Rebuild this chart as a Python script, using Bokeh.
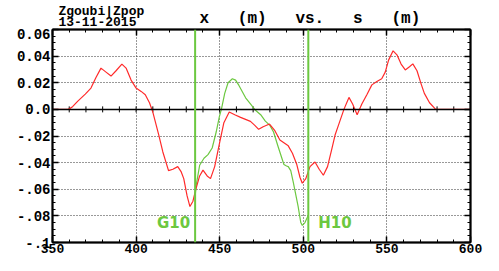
import numpy as np
from bokeh.plotting import figure
from bokeh.layouts import column
from bokeh.models import (Range1d, FixedTicker, LinearAxis, Span, Label)
from bokeh.embed import file_html
from bokeh.resources import INLINE

# ---------------- data ----------------
red_s = [350, 359.5, 362, 365, 369.6, 373, 376, 379, 382, 385, 388, 391.5, 394, 397,
         400, 403, 405.5, 408, 410, 413.5, 416, 419.4, 422, 424.9, 427, 428.5, 430.5,
         432.2, 434, 435.5, 438, 440, 442.5, 444.5, 447, 449.8, 452.5, 455.7, 459,
         462.5, 468.4, 471, 473.3, 476, 479.8, 483, 486, 491, 493.5, 496, 498, 499.4,
         501.5, 504, 507, 509.5, 512, 514.5, 517, 519, 521, 524.3, 527.3, 529.5, 532.2,
         535, 538, 541, 544, 546.9, 549, 551, 553.7, 556, 558.5, 561, 563.5, 565.5,
         568, 570.5, 572.4, 575.5, 579.2, 600]
red_x = [0.0, 0.0, 0.002, 0.006, 0.0115, 0.016, 0.024, 0.031, 0.028, 0.025, 0.029, 0.034,
         0.031, 0.022, 0.016, 0.0135, 0.011, 0.005, -0.002, -0.019, -0.032, -0.046,
         -0.045, -0.043, -0.047, -0.052, -0.065, -0.073, -0.069, -0.061, -0.050,
         -0.0456, -0.050, -0.052, -0.043, -0.026, -0.010, -0.002, -0.004, -0.006,
         -0.009, -0.012, -0.015, -0.013, -0.011, -0.016, -0.023, -0.0274, -0.033,
         -0.041, -0.051, -0.0555, -0.052, -0.043, -0.0395, -0.045, -0.0495, -0.043,
         -0.030, -0.0193, -0.012, 0.0, 0.009, 0.004, -0.004, 0.004, 0.011, 0.0184,
         0.021, 0.023, 0.028, 0.037, 0.044, 0.041, 0.034, 0.0296, 0.032, 0.0342,
         0.029, 0.019, 0.012, 0.005, 0.0, 0.0]

green_s = [435.3, 436, 438, 440.6, 443, 445.5, 447.9, 449.8, 451, 453, 455, 457.6,
           459.5, 461.5, 465.5, 468.5, 471.4, 474.5, 477.3, 480, 482.2, 485.1, 488.4,
           490, 491, 492.5, 493.9, 496.9, 498.5, 499.4, 501, 502.8]
green_x = [-0.065, -0.0565, -0.042, -0.0367, -0.034, -0.029, -0.017, -0.0055, 0.0,
           0.012, 0.020, 0.023, 0.022, 0.018, 0.0087, 0.004, -0.0007, -0.004, -0.0088,
           -0.012, -0.017, -0.0286, -0.0414, -0.0425, -0.043, -0.046, -0.054, -0.0728,
           -0.085, -0.0872, -0.085, -0.080]

element_s = [435.3, 503.0]
element_names = ["G10", "H10"]

x_ticks = [350, 400, 450, 500, 550, 600]
y_ticks = [-0.1, -0.08, -0.06, -0.04, -0.02, 0.0, 0.02, 0.04, 0.06]
y_tick_labels = ["-.1", "-.08", "-.06", "-.04", "-.02", "0.0", "0.02", "0.04", "0.06"]
x_minor = list(range(350, 601, 10))
y_minor = [round(v, 3) for v in np.arange(-0.1, 0.0601, 0.005)]

NB = "\u00a0"
title_text = f"x{NB*3}(m){NB*3}vs.{NB*3}s{NB*3}(m)"
stamp1 = "Zgoubi|Zpop"
stamp2 = "13-11-2015"

RED = "#ff2a2a"
GREEN = "#6cc840"
MONO = "Liberation Mono"

W = 483
HEAD_H = 28
MAIN_H = 255 - HEAD_H
LEFT = 52
RIGHT = 13
PAD = 6

# ---------------- header strip (texts above the frame) ----------------
head = figure(width=W, height=HEAD_H, x_range=Range1d(-PAD, W - LEFT - RIGHT),
              y_range=Range1d(0, HEAD_H), output_backend="svg", toolbar_location=None,
              x_axis_type=None, y_axis_type=None,
              min_border_left=LEFT - PAD, min_border_right=RIGHT, min_border_top=0,
              min_border_bottom=0, background_fill_color="white",
              border_fill_color="white")
head.outline_line_color = None
head.grid.visible = False
head.add_layout(Label(x=0, y=9.5, text=stamp1, text_baseline="bottom",
                      text_font=MONO, text_font_style="bold", text_font_size="13px",
                      text_color="black"))
head.add_layout(Label(x=0, y=2.5, text=stamp2, text_baseline="bottom",
                      text_font=MONO, text_font_style="bold", text_font_size="13px",
                      text_color="black"))
head.add_layout(Label(x=143, y=1, text=title_text, text_baseline="bottom",
                      text_font=MONO, text_font_style="bold", text_font_size="16px",
                      text_color="black"))

# ---------------- main figure ----------------
p = figure(width=W, height=MAIN_H, x_range=Range1d(350, 600), y_range=Range1d(-0.1, 0.06),
           output_backend="svg", toolbar_location=None,
           min_border_left=LEFT, min_border_right=RIGHT, min_border_top=1,
           min_border_bottom=0, background_fill_color="white", border_fill_color="white")
p.outline_line_color = "black"
p.outline_line_width = 1.5

xt = FixedTicker(ticks=x_ticks, minor_ticks=x_minor)
yt = FixedTicker(ticks=y_ticks, minor_ticks=y_minor)


def style_axis(ax, labels=True):
    ax.axis_line_color = "black"
    ax.axis_line_width = 2
    ax.major_tick_in = 6
    ax.major_tick_out = 0
    ax.minor_tick_in = 3
    ax.minor_tick_out = 0
    ax.major_tick_line_color = "black"
    ax.minor_tick_line_color = "black"
    ax.major_tick_line_width = 1.5
    ax.minor_tick_line_width = 1
    ax.major_label_text_font = MONO
    ax.major_label_text_font_style = "bold"
    ax.major_label_text_color = "black" if labels else None
    if not labels:
        ax.major_label_standoff = 0


xa = p.xaxis[0]
xa.ticker = xt
style_axis(xa)
xa.major_label_text_font_size = "13px"
xa.major_label_standoff = 1

ya = p.yaxis[0]
ya.ticker = yt
style_axis(ya)
ya.major_label_text_font_size = "14px"
ya.major_label_standoff = 2
ya.major_label_overrides = dict(zip(y_ticks, y_tick_labels))

top = LinearAxis(ticker=xt)
style_axis(top, labels=False)
p.add_layout(top, "above")
right = LinearAxis(ticker=yt)
style_axis(right, labels=False)
p.add_layout(right, "right")

for g, t in ((p.xgrid[0], xt), (p.ygrid[0], yt)):
    g.ticker = t
    g.grid_line_color = "#333333"
    g.grid_line_dash = "1 2"
    g.grid_line_width = 1

# zero line with ticks
p.add_layout(Span(location=0, dimension="width", line_color="black", line_width=1.5))
p.scatter(x=x_minor, y=[0] * len(x_minor), marker="dash", angle=np.pi / 2, size=6,
          line_color="black", line_width=1)

# element markers
for s in element_s:
    p.add_layout(Span(location=s, dimension="height", line_color=GREEN, line_width=2))
for s, name, side in zip(element_s, element_names, ("right", "left")):
    p.add_layout(Label(x=s, y=-0.1, text=name, x_offset=(-5 if side == "right" else 10),
                       y_offset=20, text_align=side, text_baseline="middle",
                       text_font="DejaVu Sans", text_font_style="bold",
                       text_font_size="15px", text_color=GREEN))

p.line(green_s, green_x, line_color=GREEN, line_width=1.2)
p.line(red_s, red_x, line_color=RED, line_width=1.2)

layout = column(head, p, spacing=0)
open("out.html", "w").write(file_html(layout, INLINE))
